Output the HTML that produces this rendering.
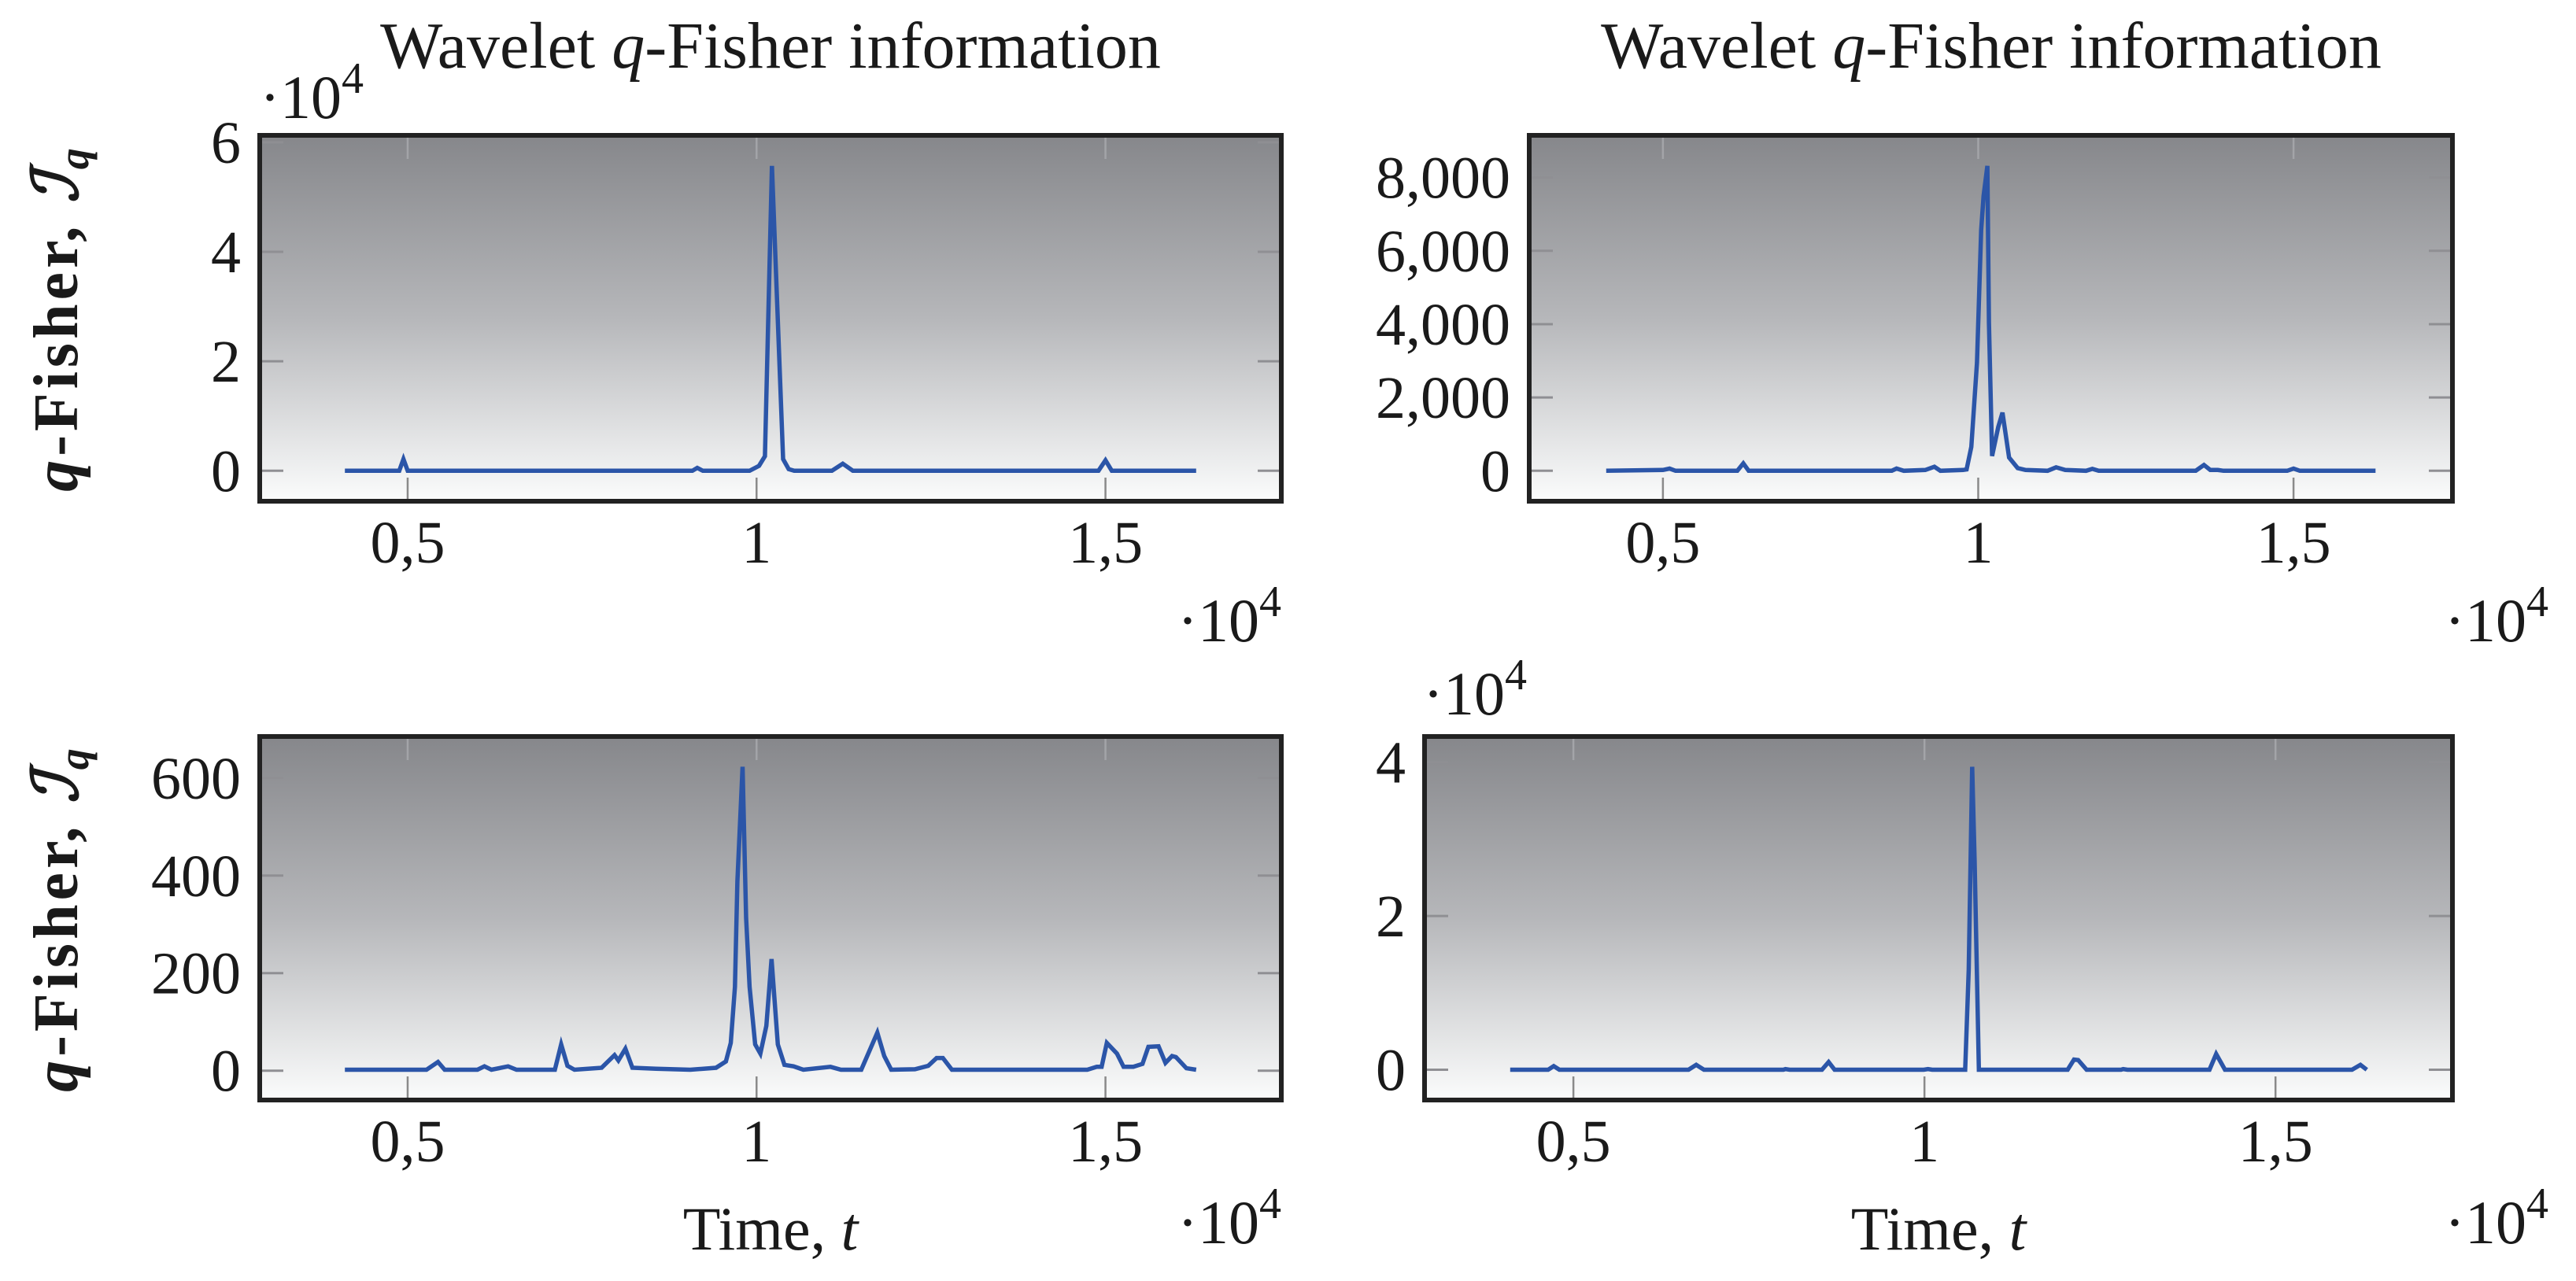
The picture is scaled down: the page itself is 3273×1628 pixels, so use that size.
<!DOCTYPE html>
<html><head><meta charset="utf-8">
<style>
html,body{margin:0;padding:0;background:#fff;}
svg{display:block;}
text{font-family:"Liberation Serif","DejaVu Serif",serif;fill:#1a1a1a;}
</style></head>
<body>
<svg id="fig" width="3273" height="1628" viewBox="0 0 3273 1628" xmlns="http://www.w3.org/2000/svg">
<defs>
<linearGradient id="bg" x1="0" y1="0" x2="0" y2="1">
<stop offset="0" stop-color="#86878b"/>
<stop offset="0.5" stop-color="#b6b7ba"/>
<stop offset="1" stop-color="#fbfcfc"/>
</linearGradient>
</defs>
</svg>
<script>
// ---- Data (time t, q-Fisher value) ----
const p1T = [4100,4880,4940,5000,9080,9150,9230,9900,10035,10120,10220,10380,10460,10540,11080,11235,11380,14900,15000,15090,16300];
const p1V = [0,0,2120,0,0,530,0,0,900,2650,55700,2120,300,0,0,1290,0,0,1900,0,0];
const p2T = [4100,5000,5105,5200,6180,6275,6360,8630,8705,8820,9160,9305,9400,9760,9815,9890,9980,10047,10085,10145,10170,10220,10317,10385,10490,10625,10750,11100,11235,11380,11710,11810,11910,13450,13580,13680,13800,13890,14420,14900,15000,15100,16300];
const p2V = [0,20,58,0,0,200,0,0,58,0,20,108,0,20,36,650,2950,6560,7500,8320,4035,400,1190,1585,360,72,20,0,94,20,0,50,0,0,158,20,20,0,0,0,58,0,0];
const p3T = [4100,5270,5435,5530,6000,6100,6200,6440,6560,7110,7200,7290,7390,7780,7965,8020,8120,8220,8560,9050,9420,9560,9630,9690,9725,9800,9850,9900,9980,10055,10140,10215,10305,10400,10530,10670,11060,11210,11500,11730,11830,11930,12270,12460,12580,12670,12800,14740,14875,14945,15020,15165,15260,15400,15530,15615,15760,15860,15955,16010,16160,16300];
const p3V = [2,2,18,2,2,9,2,9,2,2,54,10,2,6,32,21,45,6,4,2,6,19,57,172,388,623,313,172,54,35,92,229,54,12,9,2,8,2,2,78,30,2,3,10,26,26,2,2,8,8,57,35,8,8,14,49,50,16,30,28,5,2];
const p4T = [4100,4640,4720,4800,6640,6750,6860,7990,8020,8080,8540,8635,8720,9990,10050,10110,10580,10630,10680,10715,10775,12040,12130,12190,12310,12800,12830,12890,14060,14155,14280,16090,16210,16300];
const p4V = [0,0,470,0,0,630,0,0,80,0,0,1000,0,0,80,0,0,13000,39400,27200,0,0,1320,1260,0,0,80,0,0,2050,0,0,630,0];
// ---- Tick definitions ----
const xTickVals = [5000,10000,15000];
const xTickLabels = ["0,5","1","1,5"];
const p1YTickVals = [0,20000,40000,60000];
const p1YTickLabels = ["0","2","4","6"];
const p2YTickVals = [0,2000,4000,6000,8000];
const p2YTickLabels = ["0","2,000","4,000","6,000","8,000"];
const p3YTickVals = [0,200,400,600];
const p3YTickLabels = ["0","200","400","600"];
const p4YTickVals = [0,20000,40000];
const p4YTickLabels = ["0","2","4"];

const NS = "http://www.w3.org/2000/svg";
const svg = document.getElementById('fig');
function mk(tag, attrs, parent){
  const e = document.createElementNS(NS, tag);
  for (const k in attrs) e.setAttribute(k, attrs[k]);
  (parent||svg).appendChild(e);
  return e;
}
function txt(parent, x, y, s, size, anchor, name){
  const t = mk('text', {x:x, y:y, 'font-size':size, 'text-anchor':anchor||'middle'}, parent);
  
  
  t.innerHTML = s;
  return t;
}
function panel(id, L, R, T, B, ts, vs, yTicks, yLabels){
  const g = mk('g', {});
  
  
  let tmin = Math.min(...ts), tmax = Math.max(...ts);
  let vmin = Math.min(...vs), vmax = Math.max(...vs);
  const dx = (tmax - tmin) * 0.1, dy = (vmax - vmin) * 0.1;
  const x0 = tmin - dx, x1 = tmax + dx, y0 = vmin - dy, y1 = vmax + dy;
  const sx = t => L + (t - x0) / (x1 - x0) * (R - L);
  const sy = v => B - (v - y0) / (y1 - y0) * (B - T);
  const bg = mk('rect', {x:L, y:T, width:R-L, height:B-T, fill:'url(#bg)'}, g);
  
  
  const tk = 30;
  xTickVals.forEach((v, i) => {
    const x = sx(v);
    const a = mk('line', {x1:x, y1:B, x2:x, y2:B-tk, stroke:'#8a8a8a', 'stroke-width':2.5}, g);
    
    
    const b = mk('line', {x1:x, y1:T, x2:x, y2:T+tk, stroke:'#a3a4a8', 'stroke-width':2.5}, g);
    
    
    txt(g, x, B + 78, xTickLabels[i], 76, 'middle', 'x-tick-label');
  });
  yTicks.forEach((v, i) => {
    const y = sy(v);
    const a = mk('line', {x1:L, y1:y, x2:L+tk, y2:y, stroke:'#8f8f93', 'stroke-width':3}, g);
    
    
    const b = mk('line', {x1:R, y1:y, x2:R-tk, y2:y, stroke:'#8f8f93', 'stroke-width':3}, g);
    
    
    txt(g, L - 24, y + 26, yLabels[i], 76, 'end', 'y-tick-label');
  });
  const pts = ts.map((t, i) => sx(t).toFixed(1) + ',' + sy(vs[i]).toFixed(1)).join(' ');
  const line = mk('polyline', {points:pts, fill:'none', stroke:'#2b55a8', 'stroke-width':5.5, 'stroke-linejoin':'miter'}, g);
  
  
  const fr = mk('rect', {x:L, y:T, width:R-L, height:B-T, fill:'none', stroke:'#222', 'stroke-width':6}, g);
  
  
  return g;
}
const e4 = '·10<tspan font-size="56" dy="-32">4</tspan>';
// Panel 1
panel('panel-top-left', 330, 1628, 172, 637, p1T, p1V, p1YTickVals, p1YTickLabels);
txt(svg, 979, 86, 'Wavelet <tspan font-style="italic">q</tspan>-Fisher information', 84, 'middle', 'title-left');
txt(svg, 330, 150, e4, 78, 'start', 'y-multiplier-top-left');
txt(svg, 1628, 815, e4, 78, 'end', 'x-multiplier-top-left');
// Panel 2
panel('panel-top-right', 1943, 3116, 172, 637, p2T, p2V, p2YTickVals, p2YTickLabels);
txt(svg, 2530, 86, 'Wavelet <tspan font-style="italic">q</tspan>-Fisher information', 84, 'middle', 'title-right');
txt(svg, 3238, 815, e4, 78, 'end', 'x-multiplier-top-right');
// Panel 3
panel('panel-bottom-left', 330, 1628, 936, 1398, p3T, p3V, p3YTickVals, p3YTickLabels);
txt(svg, 979, 1588, 'Time, <tspan font-style="italic">t</tspan>', 78, 'middle', 'x-axis-title-left');
txt(svg, 1628, 1580, e4, 78, 'end', 'x-multiplier-bottom-left');
// Panel 4
panel('panel-bottom-right', 1810, 3116, 936, 1398, p4T, p4V, p4YTickVals, p4YTickLabels);
txt(svg, 1808, 908, e4, 78, 'start', 'y-multiplier-bottom-right');
txt(svg, 2463, 1588, 'Time, <tspan font-style="italic">t</tspan>', 78, 'middle', 'x-axis-title-right');
txt(svg, 3238, 1580, e4, 78, 'end', 'x-multiplier-bottom-right');
// Y axis titles
const yl1 = txt(svg, 0, 0, '<tspan font-style="italic">q</tspan>-Fisher, <tspan font-style="italic">ℐ</tspan><tspan font-style="italic" font-size="54" dy="14">q</tspan>', 80, 'middle', 'y-axis-title-top');
yl1.setAttribute('transform', 'translate(98,404) rotate(-90)');
yl1.setAttribute('letter-spacing', '5');
yl1.setAttribute('font-weight', 'bold');
const yl2 = txt(svg, 0, 0, '<tspan font-style="italic">q</tspan>-Fisher, <tspan font-style="italic">ℐ</tspan><tspan font-style="italic" font-size="54" dy="14">q</tspan>', 80, 'middle', 'y-axis-title-bottom');
yl2.setAttribute('transform', 'translate(98,1167) rotate(-90)');
yl2.setAttribute('letter-spacing', '5');
yl2.setAttribute('font-weight', 'bold');
</script>
</body></html>
